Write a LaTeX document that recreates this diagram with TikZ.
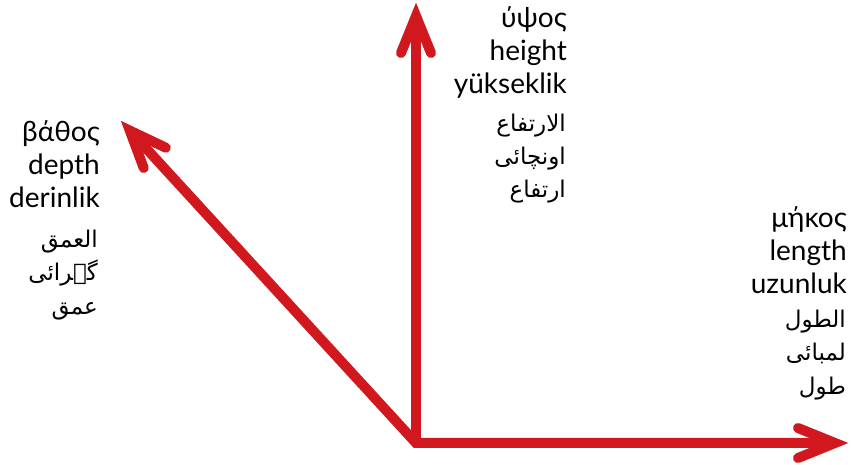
\documentclass[tikz,border=0pt]{standalone}
\usepackage{fontspec}
\setmainfont{Lato}
\newfontfamily\arabicfont[Script=Arabic]{DejaVu Sans}
\TeXXeTstate=1
\definecolor{arrowred}{HTML}{D0181E}
\begin{document}
\begin{tikzpicture}[x=1pt,y=1pt,
  lat/.style={font=\fontsize{28}{28}\selectfont, inner sep=0pt, anchor=base east},
  ar/.style={font=\arabicfont\fontsize{23}{23}\selectfont, inner sep=0pt, anchor=base east},
  shaft/.style={draw=arrowred, line width=10pt, line join=miter, line cap=butt},
  head/.style={draw=arrowred, line width=10pt, line join=miter, line cap=round}]
\useasboundingbox (0,0) rectangle (851,465);
% arrows
\coordinate (O) at (416,22);
\coordinate (Th) at (835,22);
\coordinate (Tv) at (416,449);
\coordinate (Td) at (129.8,334.4);
\draw[shaft] (Td) -- (O) -- (Th);
\draw[shaft] (O) -- (Tv);
\draw[head, shift={(Th)}] (-37,15) -- (0,0) -- (-37,-15);
\draw[head, shift={(Tv)}, rotate=90] (-37,15) -- (0,0) -- (-37,-15);
\draw[head, shift={(Td)}, rotate=132.5] (-37,15) -- (0,0) -- (-37,-15);
% top labels
\node[lat] (h1) at (567,437) {ύψος};
\node[lat] (h2) at (567,404) {height};
\node[lat] (h3) at (567,371) {yükseklik};
\node[ar] (h4) at (566,333) {\beginR الارتفاع\endR};
\node[ar] (h5) at (566,300) {\beginR اونچائی\endR};
\node[ar] (h6) at (566,267) {\beginR ارتفاع\endR};
% left labels
\node[lat] (d1) at (100,323) {βάθος};
\node[lat] (d2) at (100,290) {depth};
\node[lat] (d3) at (100,257) {derinlik};
\node[ar] (d4) at (98,217) {\beginR العمق\endR};
\node[ar] (d5) at (98,184) {\beginR گہرائی\endR};
\node[ar] (d6) at (98,150) {\beginR عمق\endR};
% right labels
\node[lat] (l1) at (847,237) {μήκος};
\node[lat] (l2) at (847,204) {length};
\node[lat] (l3) at (847,171) {uzunluk};
\node[ar] (l4) at (846,137) {\beginR الطول\endR};
\node[ar] (l5) at (846,104) {\beginR لمبائی\endR};
\node[ar] (l6) at (846,70) {\beginR طول\endR};
\end{tikzpicture}
\end{document}
